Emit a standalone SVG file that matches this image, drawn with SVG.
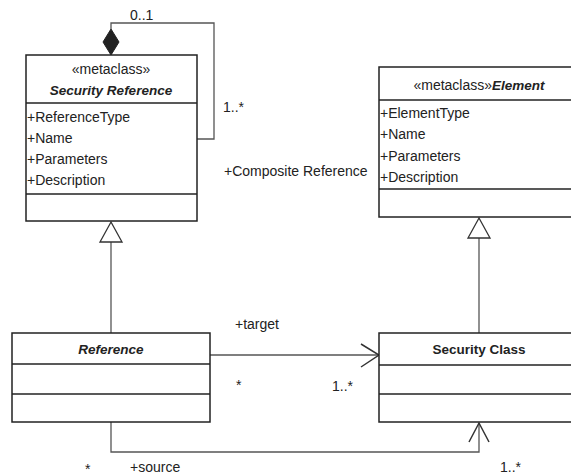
<svg xmlns="http://www.w3.org/2000/svg" width="571" height="476" viewBox="0 0 571 476">
<defs>
<style>
text{font-family:"Liberation Sans",Arial,sans-serif;font-size:14px;fill:#222}
.c{text-anchor:middle}
.bi{font-weight:bold;font-style:italic;font-size:13.5px}
.b{font-weight:bold;font-size:13.5px}
.box{fill:#fff;stroke:#222;stroke-width:1.5}
.sep{stroke:#222;stroke-width:1.5}
.con{fill:none;stroke:#555;stroke-width:1.3}
.gen{fill:#fff;stroke:#333;stroke-width:1.3}
.open{fill:none;stroke:#333;stroke-width:1.5}
</style>
</defs>
<rect width="571" height="476" fill="#fff"/>
<g id="connectors">
<path class="con" d="M111,29 V23 H214 V139 H197"/>
<polygon points="111,29 119,42 111,55 103,42" fill="#222" stroke="#222"/>
<path class="con" d="M111,242 V333"/>
<polygon class="gen" points="111,222 122,242 100,242"/>
<path class="con" d="M479,238 V333"/>
<polygon class="gen" points="479,218 490,238 468,238"/>
<path class="con" d="M210,355 H379"/>
<polyline class="open" points="361,344 379,355 361,367"/>
<path class="con" d="M111,422 V452 H479 V423"/>
<polyline class="open" points="469,442 479,423 489,442"/>
<text x="130" y="20">0..1</text>
<text x="223" y="112">1..*</text>
<text x="224" y="176">+Composite Reference</text>
<text x="235" y="329">+target</text>
<text x="236" y="390">*</text>
<text x="332" y="391">1..*</text>
<text x="85" y="474">*</text>
<text x="130" y="472">+source</text>
<text x="500" y="472">1..*</text>
</g>
<g id="security-reference">
<rect class="box" x="26" y="55" width="171" height="166"/>
<line class="sep" x1="26" y1="103" x2="197" y2="103"/>
<line class="sep" x1="26" y1="194" x2="197" y2="194"/>
<text class="c" x="111" y="74">«metaclass»</text>
<text class="c bi" x="111" y="95">Security Reference</text>
<text x="27" y="122">+ReferenceType</text>
<text x="27" y="143">+Name</text>
<text x="27" y="164">+Parameters</text>
<text x="27" y="185">+Description</text>
</g>
<g id="element">
<rect class="box" x="379" y="67" width="200" height="150"/>
<line class="sep" x1="379" y1="100" x2="579" y2="100"/>
<line class="sep" x1="379" y1="189" x2="579" y2="189"/>
<text class="c" x="479" y="90">«metaclass»<tspan class="bi">Element</tspan></text>
<text x="380" y="118">+ElementType</text>
<text x="380" y="139">+Name</text>
<text x="380" y="161">+Parameters</text>
<text x="380" y="182">+Description</text>
</g>
<g id="reference">
<rect class="box" x="12" y="333" width="198" height="89"/>
<line class="sep" x1="12" y1="364" x2="210" y2="364"/>
<line class="sep" x1="12" y1="394" x2="210" y2="394"/>
<text class="c bi" x="111" y="354">Reference</text>
</g>
<g id="security-class">
<rect class="box" x="379" y="333" width="200" height="89"/>
<line class="sep" x1="379" y1="365" x2="579" y2="365"/>
<line class="sep" x1="379" y1="394" x2="579" y2="394"/>
<text class="c b" x="479" y="354">Security Class</text>
</g>
</svg>
